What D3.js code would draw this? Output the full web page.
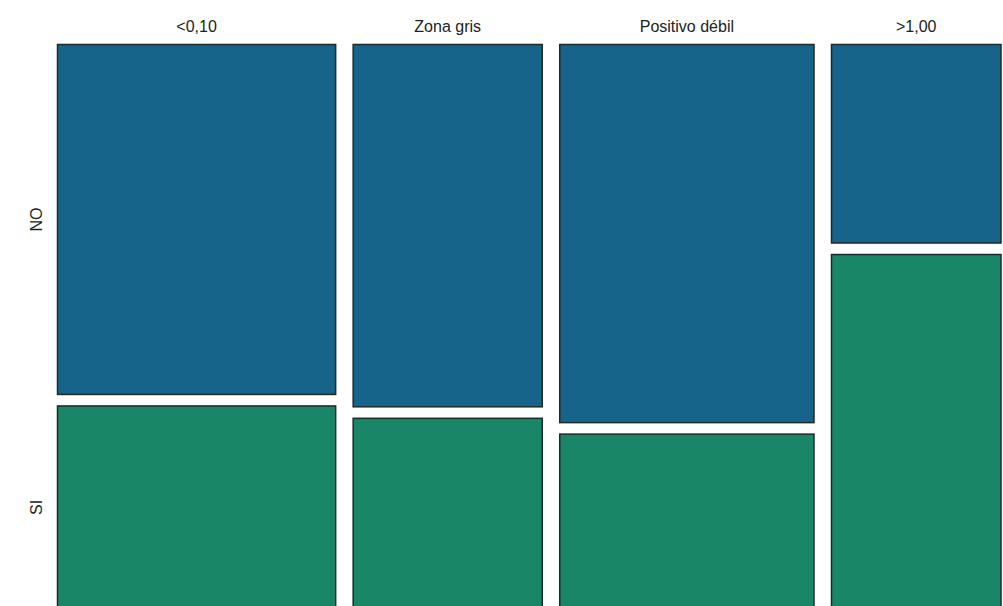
<!DOCTYPE html>
<html>
<head>
<meta charset="utf-8">
<script src="https://cdn.jsdelivr.net/npm/d3@7"></script>
<style>
  html, body { margin: 0; padding: 0; background: #ffffff; }
  svg { display: block; }
</style>
</head>
<body>
<svg id="chart" width="1003" height="606"></svg>
<script>
// Column categories (antibody level) and row categories (outcome)
const categories = ["<0,10", "Zona gris", "Positivo débil", ">1,00"];
const rowLabels = ["NO", "SI"];
// Counts per column for each row
const countsNO = [81, 57, 80, 28];
const countsSI = [47, 30, 37, 50];

(function () {
  const colors = { NO: "#166489", SI: "#198668" };

  const svg = d3.select("#chart");

  const mLeft = 57.5, mRight = 1001, mTop = 44.5, mBottom = 609;
  const gapX = 17.5, gapY = 11.5;

  const totals = categories.map((c, i) => countsNO[i] + countsSI[i]);
  const grand = d3.sum(totals);

  // Horizontal scale: cumulative counts mapped into width minus gaps
  const x = d3.scaleLinear()
    .domain([0, grand])
    .range([mLeft, mRight - gapX * (categories.length - 1)]);

  // Vertical scale: proportion within each column
  const y = d3.scaleLinear()
    .domain([0, 1])
    .range([mTop, mBottom - gapY]);

  const cum = d3.cumsum([0, ...totals]);

  const cells = [];
  categories.forEach((cat, i) => {
    const x0 = x(cum[i]) + i * gapX;
    const x1 = x(cum[i + 1]) + i * gapX;
    const pNO = countsNO[i] / totals[i];
    cells.push({ cat, row: rowLabels[0], x0, x1, y0: y(0), y1: y(pNO) });
    cells.push({ cat, row: rowLabels[1], x0, x1, y0: y(pNO) + gapY, y1: y(1) + gapY });
  });

  svg.append("g")
    .selectAll("rect")
    .data(cells)
    .join("rect")
    .attr("x", d => d.x0)
    .attr("y", d => d.y0)
    .attr("width", d => d.x1 - d.x0)
    .attr("height", d => d.y1 - d.y0)
    .attr("fill", d => colors[d.row])
    .attr("stroke", "#1c2b2a")
    .attr("stroke-width", 1.5);

  const font = "Liberation Sans, Arial, sans-serif";

  // Column labels
  svg.append("g")
    .selectAll("text")
    .data(categories)
    .join("text")
    .attr("x", (d, i) => (x(cum[i]) + x(cum[i + 1])) / 2 + i * gapX)
    .attr("y", 32)
    .attr("text-anchor", "middle")
    .attr("font-family", font)
    .attr("font-size", 16)
    .attr("fill", "#222")
    .text(d => d);

  // Row labels, centred on the first column's cells
  const firstCol = cells.filter(d => d.cat === categories[0]);
  svg.append("g")
    .selectAll("text")
    .data(firstCol)
    .join("text")
    .attr("transform", d => `translate(42,${(d.y0 + d.y1) / 2}) rotate(-90)`)
    .attr("text-anchor", "middle")
    .attr("font-family", font)
    .attr("font-size", 16)
    .attr("fill", "#222")
    .text(d => d.row);
})();
</script>
</body>
</html>
